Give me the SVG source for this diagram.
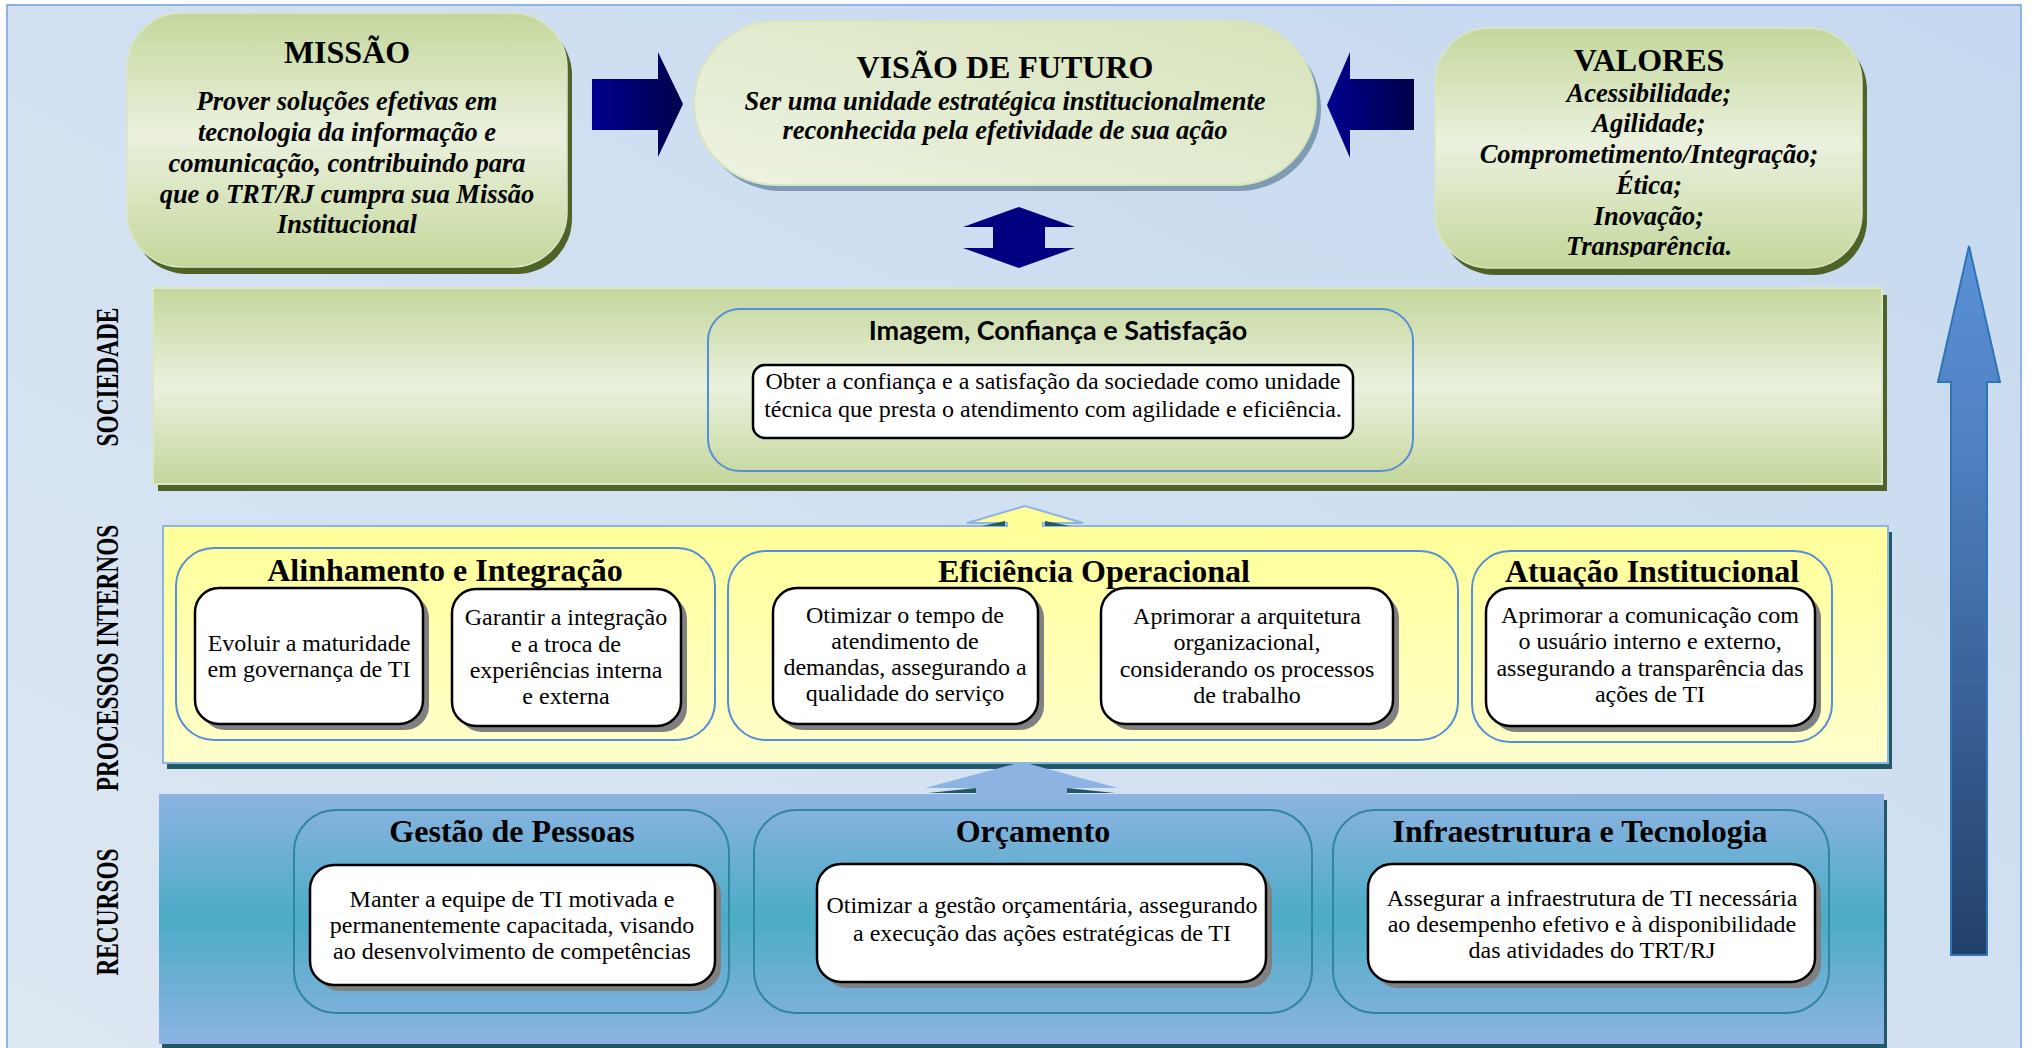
<svg xmlns="http://www.w3.org/2000/svg" width="2030" height="1048" viewBox="0 0 2030 1048">
<defs>
<linearGradient id="bg" x1="0" y1="1" x2="1" y2="0"><stop offset="0" stop-color="#dde7f2"/><stop offset="1" stop-color="#c6d9f0"/></linearGradient>
<linearGradient id="greenV" x1="0" y1="0" x2="0" y2="1"><stop offset="0" stop-color="#c4d79b"/><stop offset="0.48" stop-color="#ebf1de"/><stop offset="1" stop-color="#c4d79b"/></linearGradient>
<linearGradient id="greenD" x1="0" y1="1" x2="1" y2="0"><stop offset="0" stop-color="#eef3e3"/><stop offset="1" stop-color="#d6e3ba"/></linearGradient>
<linearGradient id="bandGreen" x1="0" y1="0" x2="0" y2="1"><stop offset="0" stop-color="#c3d69b"/><stop offset="0.5" stop-color="#ebf1de"/><stop offset="1" stop-color="#c3d69b"/></linearGradient>
<linearGradient id="yellow" x1="0" y1="0" x2="0" y2="1"><stop offset="0" stop-color="#ffff99"/><stop offset="1" stop-color="#ffffcc"/></linearGradient>
<linearGradient id="blueBand" x1="0" y1="0" x2="0" y2="1"><stop offset="0" stop-color="#8db3e2"/><stop offset="0.5" stop-color="#4bacc6"/><stop offset="1" stop-color="#8db3e2"/></linearGradient>
<linearGradient id="navyH" x1="0" y1="0" x2="1" y2="0"><stop offset="0" stop-color="#000090"/><stop offset="1" stop-color="#00004a"/></linearGradient>
<linearGradient id="bigArrow" gradientUnits="userSpaceOnUse" x1="0" y1="246" x2="0" y2="955"><stop offset="0" stop-color="#5a91d6"/><stop offset="0.3" stop-color="#4f7fc0"/><stop offset="1" stop-color="#23406a"/></linearGradient>
<clipPath id="valClip"><rect x="1435" y="28" width="429" height="229"/></clipPath>
<style>
.title{font-family:"Liberation Serif","Times New Roman",serif;font-weight:bold;font-size:32px;text-anchor:middle;fill:#000}
.ital{font-family:"Liberation Serif","Times New Roman",serif;font-weight:bold;font-style:italic;font-size:26.5px;text-anchor:middle;fill:#000}
.body{font-family:"Liberation Serif","Times New Roman",serif;font-size:24px;text-anchor:middle;fill:#000}
.side{font-family:"Liberation Serif","Times New Roman",serif;font-weight:bold;font-size:32px;text-anchor:middle;fill:#000}
.sans{font-family:Lato,"Open Sans",sans-serif;font-weight:bold;font-size:27px;text-anchor:middle;fill:#000}
.wbox{fill:#fff;stroke:#000;stroke-width:2.5}
.wsh{fill:#808080}
.grp{fill:none;stroke:#558ed5;stroke-width:2}
.grp2{fill:none;stroke:#31859c;stroke-width:2}
.olive{fill:#4f6228}
.teal{fill:#215967}
.navy{fill:url(#navyH)}
</style>
</defs>

<rect id="background" x="7" y="5" width="2014" height="1050" fill="url(#bg)" stroke="#8eb4e3" stroke-width="2"/>

<g id="band-sociedade">
<rect class="olive" x="158" y="295" width="1729" height="196"/>
<rect x="153" y="288" width="1729" height="196" fill="url(#bandGreen)" stroke="#dbe6c4" stroke-width="2"/>
<text class="side" transform="translate(118,377) rotate(-90) scale(0.73,1)">SOCIEDADE</text>
</g>

<g id="band-processos">
<rect class="teal" x="167" y="532" width="1725" height="237"/>
<rect x="163" y="526" width="1725" height="237" fill="url(#yellow)" stroke="#8eb4e3" stroke-width="2"/>
<text class="side" transform="translate(118,658) rotate(-90) scale(0.73,1)">PROCESSOS INTERNOS</text>
</g>

<g id="band-recursos">
<rect class="teal" x="162" y="800" width="1725" height="250"/>
<rect x="159" y="794" width="1725" height="250" fill="url(#blueBand)"/>
<text class="side" transform="translate(118,912) rotate(-90) scale(0.73,1)">RECURSOS</text>
</g>

<g id="connectors">
<polygon class="navy" points="592,79 658,79 658,52 683,104 658,157 658,130 592,130"/>
<polygon class="navy" points="1414,79 1350,79 1350,52 1327,105 1350,158 1350,130 1414,130"/>
<polygon fill="#000080" points="1019,207 1075,227 1045,227 1045,248 1075,248 1019,268 963,248 993,248 993,227 963,227"/>
<polygon fill="url(#bigArrow)" stroke="#2e75b6" stroke-width="2" points="1969,246 2000,382 1987,382 1987,955 1951,955 1951,382 1938,382"/>
<polygon fill="#ffff99" points="967,523 1025,506 1083,523 1043,523 1043,530 1007,530 1007,523"/>
<path d="M1007,527 V523 H967 L1025,506 L1083,523 H1043 V527" fill="none" stroke="#8eb4e3" stroke-width="2"/>
<polygon class="teal" points="982,526 1005,521 1005,526"/>
<polygon class="teal" points="1045,521 1070,526 1045,526"/>
<polygon class="teal" points="928,793 976,788 976,793"/>
<polygon class="teal" points="1067,788 1115,793 1067,793"/>
<polygon fill="#8db3e2" points="1022,762 1118,788 1067,788 1067,796 976,796 976,788 925,788"/>
</g>

<g id="missao">
<rect class="olive" x="132" y="20" width="440" height="254" rx="55"/>
<rect x="127" y="13" width="440" height="254" rx="55" fill="url(#greenV)" stroke="#dae5c3" stroke-width="1.5"/>
<text class="title" x="347" y="63">MISSÃO</text>
<text class="ital" x="347" y="110">Prover soluções efetivas em</text>
<text class="ital" x="347" y="141">tecnologia da informação e</text>
<text class="ital" x="347" y="172">comunicação, contribuindo para</text>
<text class="ital" x="347" y="203">que o TRT/RJ cumpra sua Missão</text>
<text class="ital" x="347" y="233">Institucional</text>
</g>

<g id="visao">
<rect x="699" y="27" width="622" height="164" rx="82" fill="#7d9bb2"/>
<rect x="694" y="21" width="622" height="164" rx="82" fill="url(#greenD)" stroke="#d7e4bd" stroke-width="2"/>
<text class="title" x="1005" y="78">VISÃO DE FUTURO</text>
<text class="ital" x="1005" y="110">Ser uma unidade estratégica institucionalmente</text>
<text class="ital" x="1005" y="139">reconhecida pela efetividade de sua ação</text>
</g>

<g id="valores">
<rect class="olive" x="1440" y="35" width="427" height="240" rx="55"/>
<rect x="1435" y="28" width="427" height="240" rx="55" fill="url(#greenV)" stroke="#dae5c3" stroke-width="1.5"/>
<text class="title" x="1649" y="71">VALORES</text>
<g clip-path="url(#valClip)">
<text class="ital" x="1649" y="102">Acessibilidade;</text>
<text class="ital" x="1649" y="132">Agilidade;</text>
<text class="ital" x="1649" y="163">Comprometimento/Integração;</text>
<text class="ital" x="1649" y="194">Ética;</text>
<text class="ital" x="1649" y="225">Inovação;</text>
<text class="ital" x="1649" y="255">Transparência.</text>
</g>
</g>

<g id="imagem">
<rect class="grp" x="708" y="309" width="705" height="162" rx="32"/>
<text class="sans" x="1058" y="340">Imagem, Confiança e Satisfação</text>
<rect class="wbox" x="753" y="365" width="600" height="73" rx="12"/>
<text class="body" x="1053" y="389">Obter a confiança e a satisfação da sociedade como unidade</text>
<text class="body" x="1053" y="417">técnica que presta o atendimento com agilidade e eficiência.</text>
</g>

<g id="alinhamento">
<rect class="grp" x="176" y="548" width="539" height="192" rx="38"/>
<text class="title" x="445" y="581">Alinhamento e Integração</text>
<rect class="wsh" x="201" y="594" width="228" height="136" rx="24"/>
<rect class="wbox" x="195" y="588" width="228" height="136" rx="24"/>
<text class="body" x="309" y="651">Evoluir a maturidade</text>
<text class="body" x="309" y="677">em governança de TI</text>
<rect class="wsh" x="458" y="595" width="229" height="137" rx="24"/>
<rect class="wbox" x="452" y="589" width="229" height="137" rx="24"/>
<text class="body" x="566" y="625">Garantir a integração</text>
<text class="body" x="566" y="652">e a troca de</text>
<text class="body" x="566" y="678">experiências interna</text>
<text class="body" x="566" y="704">e externa</text>
</g>

<g id="eficiencia">
<rect class="grp" x="728" y="551" width="730" height="189" rx="38"/>
<text class="title" x="1094" y="582">Eficiência Operacional</text>
<rect class="wsh" x="779" y="594" width="265" height="136" rx="24"/>
<rect class="wbox" x="773" y="588" width="265" height="136" rx="24"/>
<text class="body" x="905" y="623">Otimizar o tempo de</text>
<text class="body" x="905" y="649">atendimento de</text>
<text class="body" x="905" y="675">demandas, assegurando a</text>
<text class="body" x="905" y="701">qualidade do serviço</text>
<rect class="wsh" x="1107" y="594" width="292" height="136" rx="24"/>
<rect class="wbox" x="1101" y="588" width="292" height="136" rx="24"/>
<text class="body" x="1247" y="624">Aprimorar a arquitetura</text>
<text class="body" x="1247" y="650">organizacional,</text>
<text class="body" x="1247" y="677">considerando os processos</text>
<text class="body" x="1247" y="703">de trabalho</text>
</g>

<g id="atuacao">
<rect class="grp" x="1472" y="551" width="360" height="191" rx="38"/>
<text class="title" x="1652" y="582">Atuação Institucional</text>
<rect class="wsh" x="1492" y="594" width="329" height="138" rx="24"/>
<rect class="wbox" x="1486" y="588" width="329" height="138" rx="24"/>
<text class="body" x="1650" y="623">Aprimorar a comunicação com</text>
<text class="body" x="1650" y="649">o usuário interno e externo,</text>
<text class="body" x="1650" y="676">assegurando a transparência das</text>
<text class="body" x="1650" y="702">ações de TI</text>
</g>

<g id="gestao-pessoas">
<rect class="grp2" x="294" y="810" width="435" height="203" rx="42"/>
<text class="title" x="512" y="842">Gestão de Pessoas</text>
<rect class="wsh" x="316" y="871" width="405" height="120" rx="24"/>
<rect class="wbox" x="310" y="865" width="405" height="120" rx="24"/>
<text class="body" x="512" y="907">Manter a equipe de TI motivada e</text>
<text class="body" x="512" y="933">permanentemente capacitada, visando</text>
<text class="body" x="512" y="959">ao desenvolvimento de competências</text>
</g>

<g id="orcamento">
<rect class="grp2" x="754" y="810" width="558" height="203" rx="42"/>
<text class="title" x="1033" y="842">Orçamento</text>
<rect class="wsh" x="823" y="870" width="449" height="118" rx="24"/>
<rect class="wbox" x="817" y="864" width="449" height="118" rx="24"/>
<text class="body" x="1042" y="913">Otimizar a gestão orçamentária, assegurando</text>
<text class="body" x="1042" y="941">a execução das ações estratégicas de TI</text>
</g>

<g id="infraestrutura">
<rect class="grp2" x="1333" y="810" width="496" height="203" rx="42"/>
<text class="title" x="1580" y="842">Infraestrutura e Tecnologia</text>
<rect class="wsh" x="1374" y="870" width="447" height="118" rx="24"/>
<rect class="wbox" x="1368" y="864" width="447" height="118" rx="24"/>
<text class="body" x="1592" y="906">Assegurar a infraestrutura de TI necessária</text>
<text class="body" x="1592" y="932">ao desempenho efetivo e à disponibilidade</text>
<text class="body" x="1592" y="958">das atividades do TRT/RJ</text>
</g>
</svg>
